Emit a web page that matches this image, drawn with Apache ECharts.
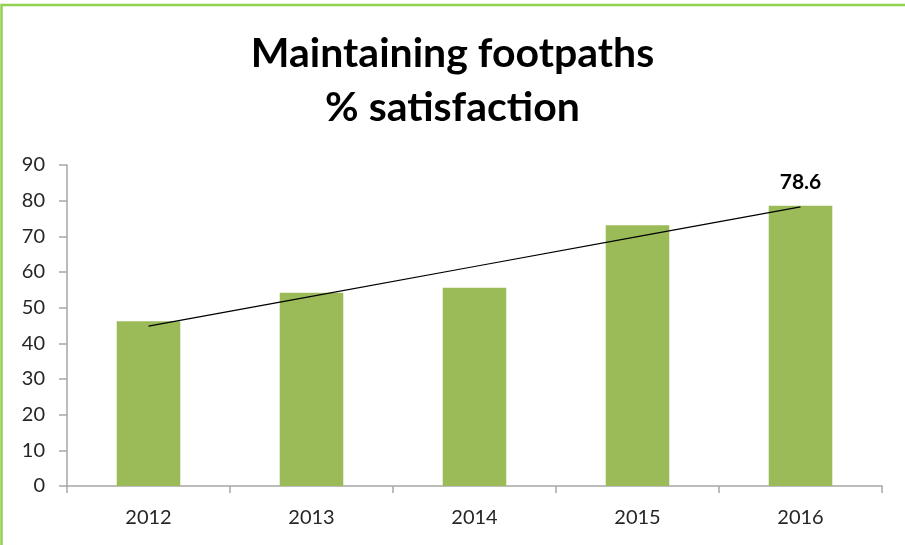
<!DOCTYPE html>
<html>
<head>
<meta charset="utf-8">
<script src="https://cdn.jsdelivr.net/npm/echarts@6/dist/echarts.min.js"></script>
<style>
  html, body { margin: 0; padding: 0; background: #fff; }
  #chart { width: 905px; height: 545px; }
</style>
</head>
<body>
<div id="chart"></div>
<script>
// Survey results: share of residents satisfied with footpath maintenance
const years = ['2012', '2013', '2014', '2015', '2016'];
const satisfaction = [46.2, 54.2, 55.6, 73.1, 78.6];
const yTicks = [0, 10, 20, 30, 40, 50, 60, 70, 80, 90];
const titleLines = ['Maintaining footpaths', '% satisfaction'];

// Least-squares linear trend across the years
function linearTrend(values) {
  const n = values.length;
  const xm = (n - 1) / 2;
  const ym = values.reduce((a, b) => a + b, 0) / n;
  let num = 0, den = 0;
  values.forEach((v, i) => { num += (i - xm) * (v - ym); den += (i - xm) * (i - xm); });
  const slope = num / den;
  return values.map((_, i) => +(ym + slope * (i - xm)).toFixed(3));
}
const trend = linearTrend(satisfaction);

const chart = echarts.init(document.getElementById('chart'), null, { renderer: 'canvas' });
const font = 'Lato, "Open Sans", sans-serif';

chart.setOption({
  animation: false,
  backgroundColor: '#ffffff',
  title: {
    text: titleLines.join('\n'),
    left: 'center',
    top: 22,
    textStyle: {
      fontFamily: font,
      fontSize: 41,
      fontWeight: 'bold',
      color: '#000000',
      lineHeight: 54
    }
  },
  graphic: [{
    type: 'rect',
    shape: { x: 1.5, y: 5, width: 960, height: 600 },
    style: { fill: 'none', stroke: '#92d050', lineWidth: 2.5 },
    silent: true
  }],
  grid: { left: 67, right: 23, top: 165, bottom: 59 },
  xAxis: {
    type: 'category',
    data: years,
    axisLine: { lineStyle: { color: '#a6a6a6', width: 1.5 } },
    axisTick: { show: true, length: 7, lineStyle: { color: '#a6a6a6', width: 1.5 } },
    axisLabel: { fontFamily: font, fontSize: 20, color: '#262626', margin: 22 }
  },
  yAxis: {
    type: 'value',
    min: yTicks[0],
    max: yTicks[yTicks.length - 1],
    interval: 10,
    splitLine: { show: false },
    axisLine: { show: true, lineStyle: { color: '#a6a6a6', width: 1.5 } },
    axisTick: { show: true, length: 8, lineStyle: { color: '#a6a6a6', width: 1.5 } },
    axisLabel: { fontFamily: font, fontSize: 20, color: '#262626', margin: 22 }
  },
  series: [
    {
      type: 'bar',
      data: satisfaction,
      barWidth: '39%',
      itemStyle: { color: '#9bbb59' },
      label: {
        show: true,
        position: 'top',
        distance: 13,
        fontFamily: font,
        fontSize: 21,
        fontWeight: 'bold',
        color: '#000000',
        formatter: p => (p.dataIndex === satisfaction.length - 1 ? p.value.toFixed(1) : '')
      }
    },
    {
      type: 'line',
      data: trend,
      symbol: 'none',
      silent: true,
      lineStyle: { color: '#000000', width: 1.2 },
      z: 5
    }
  ]
});
</script>
</body>
</html>
